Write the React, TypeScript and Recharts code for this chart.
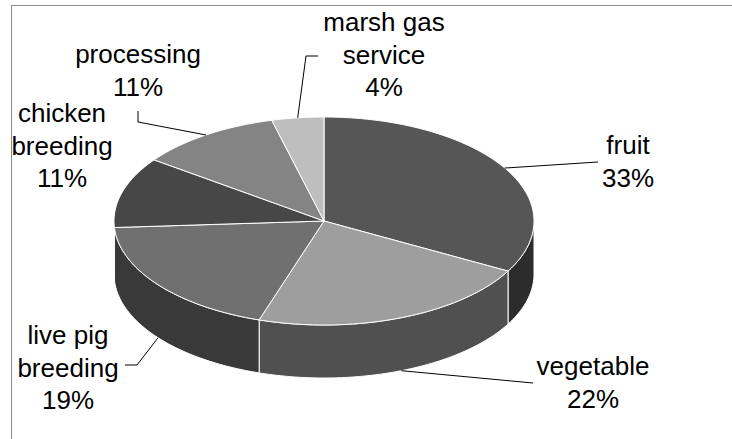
import React from "react";
import { PieChart, Pie, Cell } from "recharts";

// slices, clockwise from 12 o'clock
const categories = ["fruit", "vegetable", "live pig breeding", "chicken breeding", "processing", "marsh gas service"];
const shares = [33, 22, 19, 11, 11, 4];
const labelText = [["fruit"], ["vegetable"], ["live pig", "breeding"], ["chicken", "breeding"], ["processing"], ["marsh gas", "service"]];

const topColors = ["#565656", "#9e9e9e", "#707070", "#474747", "#848484", "#bebebe"];
const sideColors = ["#2c2c2c", "#505050", "#393939", "#262626", "#4a4a4a", "#6a6a6a"];

const data = categories.map((name, i) => ({ name, value: shares[i] }));

// label placement (text anchor + leader line elbows)
const labelLayout: { x: number; y: number; path: number[][] | null }[] = [
  { x: 628, y: 154, path: [[598, 162]] },
  { x: 593, y: 375, path: [[533, 383]] },
  { x: 68, y: 344, path: [[137, 365], [125, 365]] },
  { x: 62, y: 122, path: null },
  { x: 138, y: 63, path: [[138, 122], [138, 111]] },
  { x: 384, y: 31, path: [[306, 56], [318, 56]] },
];

const TILT = 104 / 210;
const DEPTH = 53;
const RAD = Math.PI / 180;
const LINE_H = 32.5;

const pt = (cx: number, cy: number, r: number, deg: number, dy = 0) => [
  cx + r * Math.cos(deg * RAD),
  cy - r * TILT * Math.sin(deg * RAD) + dy,
];

const arc = (cx: number, cy: number, r: number, from: number, to: number, dy: number) => {
  const n = Math.max(2, Math.ceil(Math.abs(from - to)));
  const out: number[][] = [];
  for (let k = 0; k <= n; k++) out.push(pt(cx, cy, r, from + ((to - from) * k) / n, dy));
  return out;
};

const toPath = (pts: number[][]) => pts.map((p) => `${p[0].toFixed(2)},${p[1].toFixed(2)}`).join("L");

const TopSlice = (props: any) => {
  const { cx, cy, outerRadius, startAngle, endAngle, fill } = props;
  const pts = arc(cx, cy, outerRadius, startAngle, endAngle, 0);
  return <path d={`M${cx},${cy}L${toPath(pts)}Z`} fill={fill} stroke="#fff" strokeWidth={1} strokeLinejoin="round" />;
};

const SideSlice = (props: any) => {
  const { cx, cy, outerRadius, startAngle, endAngle, fill } = props;
  // only the front half of the rim is visible
  const hi = Math.min(Math.max(startAngle, endAngle), 0);
  const lo = Math.max(Math.min(startAngle, endAngle), -180);
  if (hi <= lo) return <g />;
  const top = arc(cx, cy, outerRadius, hi, lo, 0);
  const bottom = arc(cx, cy, outerRadius, lo, hi, DEPTH);
  return <path d={`M${toPath(top)}L${toPath(bottom)}Z`} fill={fill} stroke="#fff" strokeWidth={1} />;
};

const renderLabel = (props: any) => {
  const { cx, cy, midAngle, outerRadius, index } = props;
  const lay = labelLayout[index];
  const front = Math.sin(midAngle * RAD) < 0;
  const anchor = pt(cx, cy, outerRadius, midAngle, front ? DEPTH : 0);
  const lines = [...labelText[index], `${shares[index]}%`];
  return (
    <g key={`lbl-${index}`}>
      {lay.path && (
        <polyline
          points={[anchor, ...lay.path].map((p) => p.join(",")).join(" ")}
          fill="none"
          stroke="#000"
          strokeWidth={1}
        />
      )}
      <text x={lay.x} y={lay.y} textAnchor="middle" fontSize={26} fill="#000" fontFamily="'Liberation Sans', Arial, sans-serif">
        {lines.map((t, i) => (
          <tspan key={i} x={lay.x} y={lay.y + i * LINE_H}>
            {t}
          </tspan>
        ))}
      </text>
    </g>
  );
};

export default function App() {
  return (
    <div style={{ position: "absolute", left: 0, top: 0, width: 732, height: 439, overflow: "hidden", background: "#fff" }}>
      <div style={{ position: "absolute", left: 11, top: 5, width: 800, height: 600, border: "1px solid #8c8c8c" }} />
      <div style={{ position: "absolute", left: 0, top: 0 }}>
        <PieChart width={732} height={439} margin={{ top: 0, right: 0, bottom: 0, left: 0 }}>
          <Pie
            data={data}
            dataKey="value"
            nameKey="name"
            cx={324}
            cy={221}
            outerRadius={210}
            startAngle={90}
            endAngle={-270}
            shape={SideSlice}
            activeShape={SideSlice}
            inactiveShape={SideSlice}
            isAnimationActive={false}
            stroke="none"
          >
            {data.map((d, i) => (
              <Cell key={d.name} fill={sideColors[i]} />
            ))}
          </Pie>
          <Pie
            data={data}
            dataKey="value"
            nameKey="name"
            cx={324}
            cy={221}
            outerRadius={210}
            startAngle={90}
            endAngle={-270}
            shape={TopSlice}
            activeShape={TopSlice}
            inactiveShape={TopSlice}
            label={renderLabel}
            labelLine={false}
            isAnimationActive={false}
            stroke="none"
          >
            {data.map((d, i) => (
              <Cell key={d.name} fill={topColors[i]} />
            ))}
          </Pie>
        </PieChart>
      </div>
    </div>
  );
}
